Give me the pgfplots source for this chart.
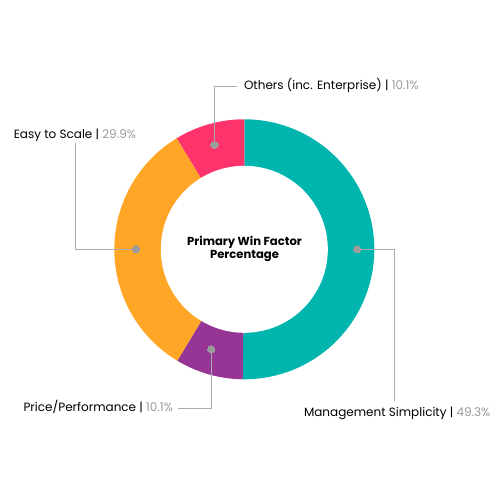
\documentclass[border=0pt]{standalone}
\usepackage{pgfplots}
\pgfplotsset{compat=1.18}
\usepackage{pgfplotstable}
\usepackage{fontspec}
\setmainfont{Poppins}
\definecolor{cTeal}{HTML}{00B5AE}
\definecolor{cPurple}{HTML}{963596}
\definecolor{cOrange}{HTML}{FFA626}
\definecolor{cPink}{HTML}{FF336B}
\definecolor{cDot}{HTML}{9C9C9C}
\definecolor{cLine}{HTML}{ABABAB}
\definecolor{cPct}{HTML}{9A9A9A}
% angular share of each segment as drawn (degrees), clockwise from 12 o'clock
\pgfplotstableread{
name share
mgmt 180.7
price 30.3
easy 117.7
others 31.3
}\shares
\begin{document}
\begin{tikzpicture}
\pgfplotstablegetelem{0}{share}\of\shares \let\sA\pgfplotsretval
\pgfplotstablegetelem{1}{share}\of\shares \let\sB\pgfplotsretval
\pgfplotstablegetelem{2}{share}\of\shares \let\sC\pgfplotsretval
\pgfplotstablegetelem{3}{share}\of\shares \let\sD\pgfplotsretval
\pgfmathsetmacro\eA{90-\sA}
\pgfmathsetmacro\eB{\eA-\sB}
\pgfmathsetmacro\eC{\eB-\sC}
\pgfmathsetmacro\eD{\eC-\sD}
\path[use as bounding box] (0,0) rectangle (500pt,500pt);
\begin{axis}[x=1pt,y=1pt,xmin=0,xmax=500,ymin=0,ymax=500,
  hide axis, clip=false, anchor=south west, at={(0,0)},
  every node/.style={inner sep=0pt}]
\def\cx{244.3}\def\cy{250.7}
\addplot[draw=none,fill=cTeal,domain=\eA:90,samples=120,variable=\t]
  ({\cx+130*cos(t)},{\cy+130*sin(t)}) -- (axis cs:\cx,\cy) -- cycle;
\addplot[draw=none,fill=cPurple,domain=\eB:\eA,samples=40,variable=\t]
  ({\cx+130*cos(t)},{\cy+130*sin(t)}) -- (axis cs:\cx,\cy) -- cycle;
\addplot[draw=none,fill=cOrange,domain=\eC:\eB,samples=100,variable=\t]
  ({\cx+130*cos(t)},{\cy+130*sin(t)}) -- (axis cs:\cx,\cy) -- cycle;
\addplot[draw=none,fill=cPink,domain=\eD:\eC,samples=40,variable=\t]
  ({\cx+130*cos(t)},{\cy+130*sin(t)}) -- (axis cs:\cx,\cy) -- cycle;
\addplot[draw=none,fill=white,domain=0:360,samples=180,variable=\t]
  ({\cx+83.5*cos(t)},{\cy+83.5*sin(t)}) -- cycle;
% leader lines
\addplot[cLine,line width=0.9pt,mark=none] coordinates {(357.3,250.7) (394.5,250.7) (394.5,98.5)};
\addplot[cLine,line width=0.9pt,mark=none] coordinates {(211.3,150.7) (211.3,92) (178,92)};
\addplot[cLine,line width=0.9pt,mark=none] coordinates {(136,250.7) (75,250.7) (75,357)};
\addplot[cLine,line width=0.9pt,mark=none] coordinates {(214.5,355) (214.5,414) (236.5,414)};
% dots
\addplot[color=cDot,only marks,mark=*,mark size=3.6pt,mark options={fill=cDot,draw=cDot,line width=0pt}]
  coordinates {(357.3,250.7) (211.3,150.7) (136,250.7) (214.5,355)};
% labels
\node[anchor=base west,font=\fontsize{12}{14}\selectfont] at (axis cs:300.5,83.3)
  {Management Simplicity | \textcolor{cPct}{49.3\%}};
\node[anchor=base west,font=\fontsize{12}{14}\selectfont] at (axis cs:20,88.3)
  {Price/Performance | \textcolor{cPct}{10.1\%}};
\node[anchor=base west,font=\fontsize{12}{14}\selectfont] at (axis cs:10.3,361.7)
  {Easy to Scale | \textcolor{cPct}{29.9\%}};
\node[anchor=base west,font=\fontsize{12}{14}\selectfont] at (axis cs:240.5,410)
  {Others (inc. Enterprise) | \textcolor{cPct}{10.1\%}};
\node[align=center,font=\fontsize{11.6}{13}\selectfont\bfseries] at (axis cs:244.5,251)
  {Primary Win Factor\\Percentage};
\end{axis}
\end{tikzpicture}
\end{document}
